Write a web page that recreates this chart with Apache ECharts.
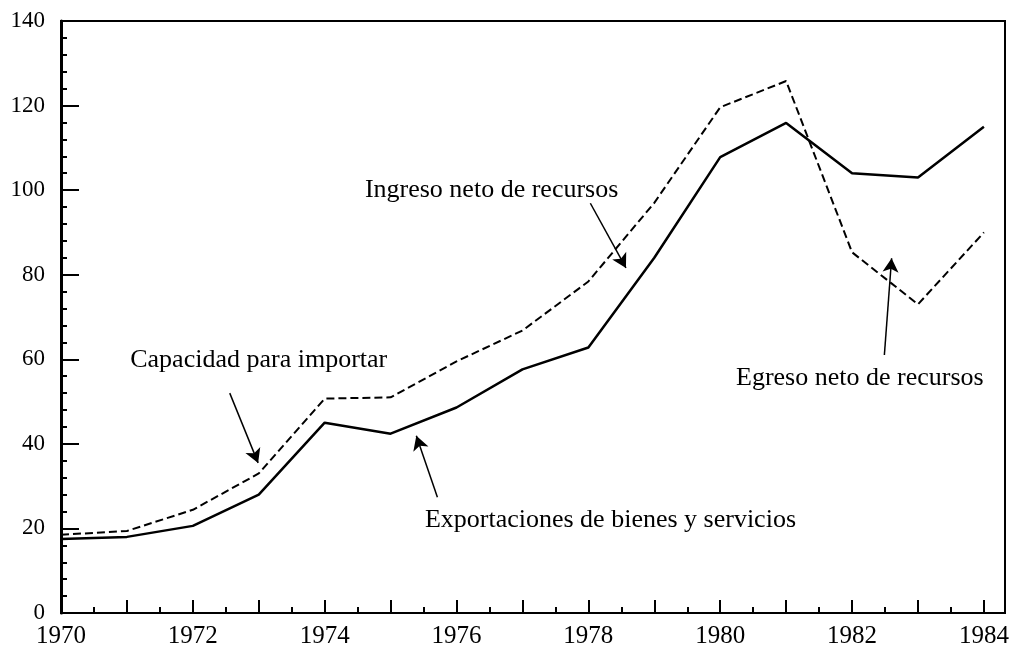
<!DOCTYPE html>
<html>
<head>
<meta charset="utf-8">
<script src="https://cdn.jsdelivr.net/npm/echarts@6/dist/echarts.min.js"></script>
<style>
  html, body { margin: 0; padding: 0; background: #fff; }
  #chart { width: 1019px; height: 652px; }
</style>
</head>
<body>
<div id="chart"></div>
<script>
// values
const years = [1970, 1971, 1972, 1973, 1974, 1975, 1976, 1977, 1978, 1979, 1980, 1981, 1982, 1983, 1984];
const exportaciones = [17.5, 18, 20.6, 28, 45, 42.4, 48.6, 57.6, 62.8, 84, 107.8, 115.9, 104, 103, 115];
const capacidad = [18.5, 19.4, 24.4, 33, 50.7, 51, 59.5, 66.8, 78.4, 97, 119.6, 125.8, 85.3, 73, 90];

// annotation texts and arrows, in data units
const notes = [
  { text: 'Capacidad para importar', at: [1971.05, 59.8] },
  { text: 'Exportaciones de bienes y servicios', at: [1975.52, 22.0] },
  { text: 'Ingreso neto de recursos', at: [1974.61, 100.0] },
  { text: 'Egreso neto de recursos', at: [1980.24, 55.6] }
];
const arrows = [
  { from: [1972.56, 52.0], to: [1972.99, 35.5] },
  { from: [1975.71, 27.4], to: [1975.39, 41.9] },
  { from: [1978.03, 96.9], to: [1978.57, 81.6] },
  { from: [1982.49, 61.0], to: [1982.60, 83.9] }
];

const serif = "'Liberation Serif', 'DejaVu Serif', 'Times New Roman', serif";
const pairs = (ys) => years.map((y, i) => [y, ys[i]]);

const chart = echarts.init(document.getElementById('chart'), null, { renderer: 'canvas' });

chart.setOption({
  animation: false,
  backgroundColor: '#fff',
  grid: {
    left: 61, right: 14, top: 21, bottom: 39,
    show: true, borderColor: '#000', borderWidth: 2, backgroundColor: 'transparent'
  },
  xAxis: {
    type: 'value',
    min: 1970,
    max: 1984.32,
    interval: 1,
    axisLine: { lineStyle: { color: '#000', width: 2 } },
    axisTick: { inside: true, length: 13, lineStyle: { color: '#000', width: 2 } },
    minorTick: { show: true, splitNumber: 2, length: 6, lineStyle: { color: '#000', width: 2 } },
    splitLine: { show: false },
    axisLabel: {
      color: '#000', fontFamily: serif, fontSize: 25, margin: 11,
      showMaxLabel: false,
      formatter: (v) => (Number.isInteger(v) && v % 2 === 0 ? String(v) : '')
    }
  },
  yAxis: {
    type: 'value',
    min: 0,
    max: 140,
    interval: 20,
    axisLine: { show: true, lineStyle: { color: '#000', width: 3 } },
    axisTick: { show: true, inside: true, length: 18, lineStyle: { color: '#000', width: 2 } },
    minorTick: { show: true, splitNumber: 5, length: 6, lineStyle: { color: '#000', width: 2 } },
    splitLine: { show: false },
    axisLabel: { color: '#000', fontFamily: serif, fontSize: 23, margin: 16 }
  },
  series: [
    {
      name: 'Exportaciones de bienes y servicios',
      type: 'line',
      data: pairs(exportaciones),
      symbol: 'none',
      lineStyle: { color: '#000', width: 2.5 }
    },
    {
      name: 'Capacidad para importar',
      type: 'line',
      data: pairs(capacidad),
      symbol: 'none',
      lineStyle: { color: '#000', width: 2, type: [8, 4] },
      markLine: {
        silent: true,
        symbol: ['none', 'arrow'],
        symbolSize: [12, 14],
        label: { show: false },
        lineStyle: { color: '#000', width: 1.5, type: 'solid' },
        data: arrows.map((a) => [{ coord: a.from }, { coord: a.to }])
      },
      markPoint: {
        silent: true,
        symbol: 'circle',
        symbolSize: 0,
        label: {
          show: true,
          position: 'right',
          distance: 0,
          color: '#000',
          fontFamily: serif,
          fontSize: 26,
          formatter: (p) => p.name
        },
        data: notes.map((n) => ({ name: n.text, coord: n.at }))
      }
    }
  ]
});
</script>
</body>
</html>
